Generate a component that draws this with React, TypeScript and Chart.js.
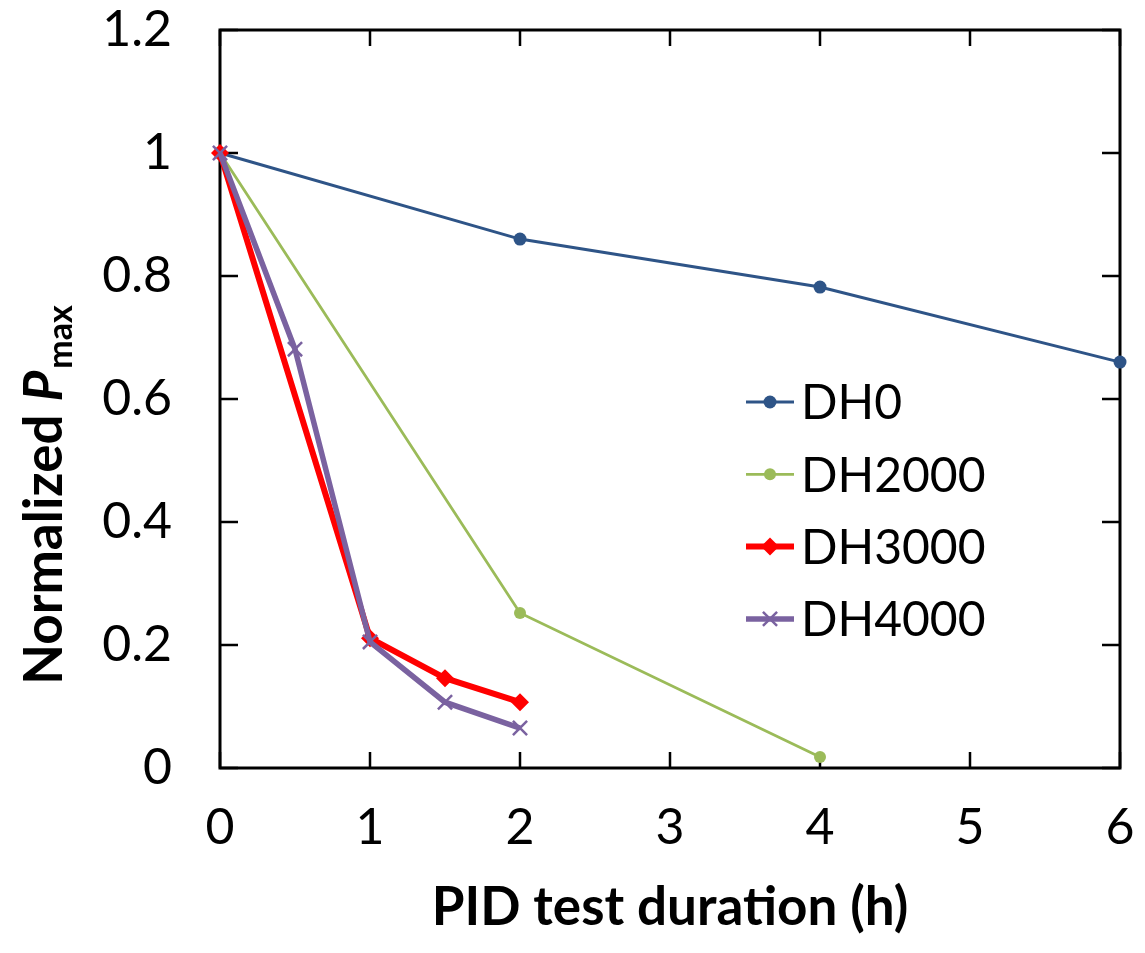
import React, { useEffect, useRef } from "react";
import { Chart, registerables } from "chart.js";

Chart.register(...registerables);

// ---- data ----
const xTickValues = [0, 1, 2, 3, 4, 5, 6];
const yTickValues = [0, 0.2, 0.4, 0.6, 0.8, 1, 1.2];

const seriesNames = ["DH0", "DH2000", "DH3000", "DH4000"];

const dh0Hours = [0, 2, 4, 6];
const dh0Pmax = [1, 0.86, 0.782, 0.66];

const dh2000Hours = [0, 2, 4];
const dh2000Pmax = [1, 0.252, 0.018];

const dh3000Hours = [0, 1, 1.5, 2];
const dh3000Pmax = [1, 0.211, 0.146, 0.107];

const dh4000Hours = [0, 0.5, 1, 1.5, 2];
const dh4000Pmax = [1, 0.681, 0.205, 0.107, 0.065];

const xTitle = "PID test duration (h)";
const yTitleMain = "Normalized ";
const yTitleSymbol = "P";
const yTitleSub = "max";

const FONT = "Lato, 'Open Sans', sans-serif";

const zip = (xs: number[], ys: number[]) => xs.map((x, i) => ({ x, y: ys[i] }));

const framePlugin = {
  id: "frame",
  beforeDatasetsDraw(chart: any) {
    const { ctx, chartArea } = chart;
    const { left, right, top, bottom } = chartArea;
    const xs = chart.scales.x;
    const ys = chart.scales.y;
    ctx.save();
    ctx.strokeStyle = "#000";
    ctx.lineWidth = 3;
    ctx.strokeRect(left, top, right - left, bottom - top);
    ctx.lineWidth = 2.5;
    ctx.beginPath();
    yTickValues.forEach((v) => {
      const py = ys.getPixelForValue(v);
      ctx.moveTo(left, py);
      ctx.lineTo(left + 18, py);
      ctx.moveTo(right, py);
      ctx.lineTo(right - 18, py);
    });
    xTickValues.forEach((v) => {
      const px = xs.getPixelForValue(v);
      ctx.moveTo(px, bottom);
      ctx.lineTo(px, bottom - 16);
      ctx.moveTo(px, top);
      ctx.lineTo(px, top + 16);
    });
    ctx.stroke();
    ctx.restore();
  },
};

function drawMarker(ctx: CanvasRenderingContext2D, style: string, x: number, y: number, r: number, color: string, bw: number) {
  ctx.save();
  ctx.fillStyle = color;
  ctx.strokeStyle = color;
  ctx.lineWidth = bw;
  ctx.beginPath();
  if (style === "circle") {
    ctx.arc(x, y, r, 0, Math.PI * 2);
    ctx.fill();
  } else if (style === "rectRot") {
    ctx.moveTo(x, y - r);
    ctx.lineTo(x + r, y);
    ctx.lineTo(x, y + r);
    ctx.lineTo(x - r, y);
    ctx.closePath();
    ctx.fill();
  } else if (style === "crossRot") {
    const d = r * Math.SQRT1_2;
    ctx.moveTo(x - d, y - d);
    ctx.lineTo(x + d, y + d);
    ctx.moveTo(x + d, y - d);
    ctx.lineTo(x - d, y + d);
    ctx.stroke();
  }
  ctx.restore();
}

const textPlugin = {
  id: "texts",
  afterDraw(chart: any) {
    const { ctx, chartArea } = chart;
    ctx.save();
    ctx.fillStyle = "#000";

    // x title
    ctx.font = `bold 53px ${FONT}`;
    ctx.textAlign = "center";
    ctx.textBaseline = "middle";
    ctx.fillText(xTitle, (chartArea.left + chartArea.right) / 2, 908);

    // y title (rotated, mixed styles)
    ctx.save();
    ctx.translate(62, 495);
    ctx.rotate(-Math.PI / 2);
    ctx.textAlign = "left";
    ctx.textBaseline = "alphabetic";
    const f1 = `bold 53px ${FONT}`;
    const f2 = `italic bold 53px ${FONT}`;
    const f3 = `bold 34px ${FONT}`;
    ctx.font = f1;
    const w1 = ctx.measureText(yTitleMain).width;
    ctx.font = f2;
    const w2 = ctx.measureText(yTitleSymbol).width;
    ctx.font = f3;
    const w3 = ctx.measureText(yTitleSub).width;
    let sx = -(w1 + w2 + w3 + 2) / 2;
    ctx.font = f1;
    ctx.fillText(yTitleMain, sx, 0);
    sx += w1;
    ctx.font = f2;
    ctx.fillText(yTitleSymbol, sx, 0);
    sx += w2 + 2;
    ctx.font = f3;
    ctx.fillText(yTitleSub, sx, 10);
    ctx.restore();

    // legend
    const baseY = 402;
    const step = 72.3;
    chart.data.datasets.forEach((ds: any, i: number) => {
      const y = baseY + i * step;
      ctx.save();
      ctx.strokeStyle = ds.borderColor;
      ctx.lineWidth = ds.borderWidth;
      ctx.beginPath();
      ctx.moveTo(746, y);
      ctx.lineTo(794, y);
      ctx.stroke();
      ctx.restore();
      drawMarker(ctx, ds.pointStyle, 770, y, ds.pointRadius, ds.pointBackgroundColor, ds.pointBorderWidth);
      ctx.fillStyle = "#000";
      ctx.font = `48px ${FONT}`;
      ctx.textAlign = "left";
      ctx.textBaseline = "middle";
      ctx.fillText(ds.label, 801, y + 2);
    });
    ctx.restore();
  },
};

export default function App() {
  const canvasRef = useRef<HTMLCanvasElement | null>(null);

  useEffect(() => {
    document.body.style.margin = "0";
    const canvas = canvasRef.current;
    if (!canvas) return;
    const blue = "#2E5487";
    const green = "#9BBB59";
    const red = "#FF0000";
    const purple = "#7A62A0";
    const chart = new Chart(canvas, {
      type: "line",
      data: {
        datasets: [
          {
            label: seriesNames[0],
            data: zip(dh0Hours, dh0Pmax),
            borderColor: blue,
            backgroundColor: blue,
            borderWidth: 3,
            pointStyle: "circle",
            pointRadius: 6.5,
            pointBackgroundColor: blue,
            pointBorderColor: blue,
            pointBorderWidth: 0,
            order: 3,
            clip: false as any,
          },
          {
            label: seriesNames[1],
            data: zip(dh2000Hours, dh2000Pmax),
            borderColor: green,
            backgroundColor: green,
            borderWidth: 2.8,
            pointStyle: "circle",
            pointRadius: 6,
            pointBackgroundColor: green,
            pointBorderColor: green,
            pointBorderWidth: 0,
            order: 2,
            clip: false as any,
          },
          {
            label: seriesNames[2],
            data: zip(dh3000Hours, dh3000Pmax),
            borderColor: red,
            backgroundColor: red,
            borderWidth: 6,
            pointStyle: "rectRot",
            pointRadius: 9,
            pointBackgroundColor: red,
            pointBorderColor: red,
            pointBorderWidth: 0,
            order: 1,
            clip: false as any,
          },
          {
            label: seriesNames[3],
            data: zip(dh4000Hours, dh4000Pmax),
            borderColor: purple,
            backgroundColor: purple,
            borderWidth: 5.5,
            pointStyle: "crossRot",
            pointRadius: 10,
            pointBackgroundColor: purple,
            pointBorderColor: purple,
            pointBorderWidth: 2.5,
            order: 0,
            clip: false as any,
          },
        ],
      },
      options: {
        animation: false,
        responsive: true,
        maintainAspectRatio: false,
        layout: { padding: { top: 30, right: 25, left: 0, bottom: 0 } },
        plugins: {
          legend: { display: false },
          tooltip: { enabled: false },
          title: { display: false },
        },
        elements: { line: { tension: 0 } },
        scales: {
          x: {
            type: "linear",
            min: 0,
            max: 6,
            afterFit: (s: any) => {
              s.height = 185;
              s.paddingLeft = 0;
              s.paddingRight = 0;
              s.paddingTop = 0;
              s.paddingBottom = 0;
            },
            afterBuildTicks: (s: any) => {
              s.ticks = xTickValues.map((v) => ({ value: v }));
            },
            grid: { display: false, drawTicks: false },
            border: { display: false },
            ticks: {
              color: "#000",
              font: { family: FONT, size: 50 },
              padding: 30,
              maxRotation: 0,
              autoSkip: false,
            },
          },
          y: {
            type: "linear",
            min: 0,
            max: 1.2,
            afterFit: (s: any) => {
              s.width = 220;
              s.paddingLeft = 0;
              s.paddingRight = 0;
              s.paddingTop = 0;
              s.paddingBottom = 0;
            },
            afterBuildTicks: (s: any) => {
              s.ticks = yTickValues.map((v) => ({ value: v }));
            },
            grid: { display: false, drawTicks: false },
            border: { display: false },
            ticks: {
              color: "#000",
              font: { family: FONT, size: 50 },
              padding: 48,
              autoSkip: false,
              callback: (v: any) => String(Math.round(Number(v) * 10) / 10),
            },
          },
        },
      },
      plugins: [framePlugin, textPlugin],
    });
    return () => chart.destroy();
  }, []);

  return (
    <div style={{ width: 1145, height: 953, position: "relative", background: "#fff" }}>
      <canvas ref={canvasRef} />
    </div>
  );
}
